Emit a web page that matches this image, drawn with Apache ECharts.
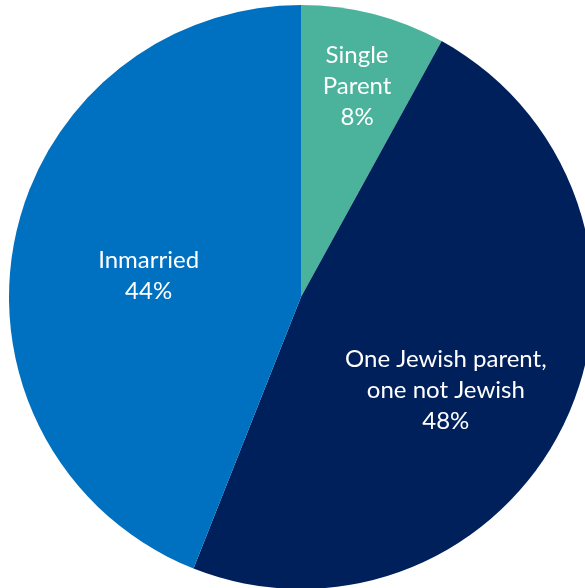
<!DOCTYPE html>
<html>
<head>
<meta charset="utf-8">
<script src="https://cdn.jsdelivr.net/npm/echarts@6/dist/echarts.min.js"></script>
<style>
  html, body { margin: 0; padding: 0; background: #ffffff; }
  #chart { width: 585px; height: 588px; }
</style>
</head>
<body>
<div id="chart"></div>
<script>
// Household composition shares
const categories = ['Single\nParent', 'One Jewish parent,\none not Jewish', 'Inmarried'];
const shares = [8, 48, 44];
const sliceColors = ['#4BB39C', '#00205B', '#0070C0'];
// Nudges from the default inside-label spot, per slice
const labelShift = [[19, -66], [10, 30], [-6, 7]];

const chart = echarts.init(document.getElementById('chart'), null, { renderer: 'canvas' });

const data = categories.map((name, i) => ({
  name: name,
  value: shares[i],
  itemStyle: { color: sliceColors[i] }
}));

chart.setOption({
  animation: false,
  series: [{
    type: 'pie',
    center: [301, 297],
    radius: [0, 292],
    startAngle: 90,
    clockwise: true,
    silent: true,
    data: data,
    label: {
      show: true,
      position: 'inside',
      formatter: p => p.name + '\n' + p.value + '%',
      color: '#ffffff',
      fontFamily: 'Lato',
      fontSize: 24,
      lineHeight: 31,
      align: 'center'
    },
    labelLine: { show: false },
    labelLayout: params => ({
      dx: labelShift[params.dataIndex][0],
      dy: labelShift[params.dataIndex][1]
    }),
    emphasis: { disabled: true }
  }]
});
</script>
</body>
</html>
